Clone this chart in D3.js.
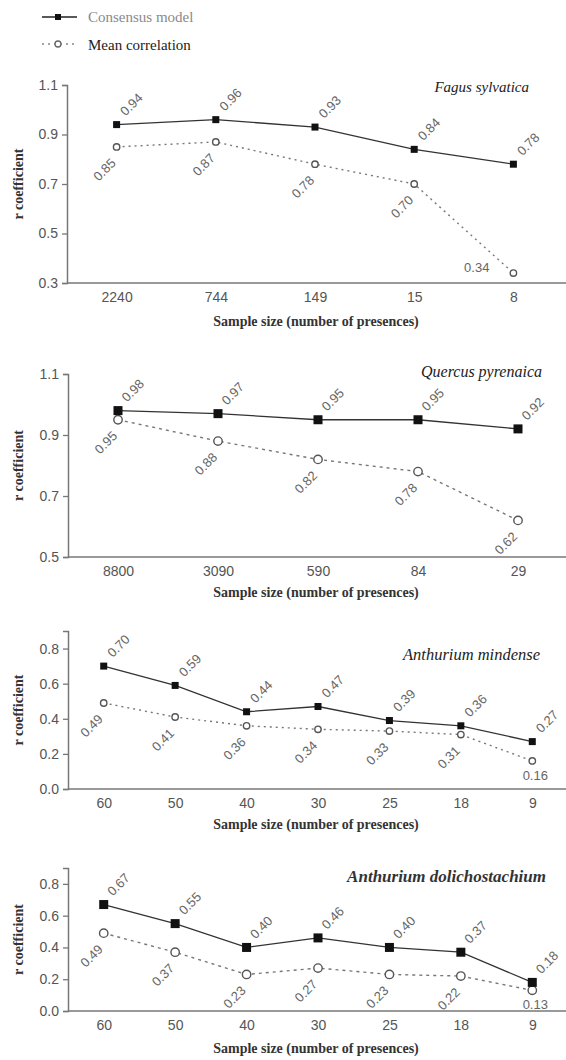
<!DOCTYPE html>
<html>
<head>
<meta charset="utf-8">
<script src="https://cdn.jsdelivr.net/npm/d3@7"></script>
<style>
  body { margin: 0; background: #fff; }
  svg { display: block; }
</style>
</head>
<body>
<svg id="chart" width="566" height="1060"></svg>
<script>
// data
var fagusSizes = ["2240", "744", "149", "15", "8"];
var fagusConsensus = [0.94, 0.96, 0.93, 0.84, 0.78];
var fagusMean = [0.85, 0.87, 0.78, 0.70, 0.34];

var quercusSizes = ["8800", "3090", "590", "84", "29"];
var quercusConsensus = [0.98, 0.97, 0.95, 0.95, 0.92];
var quercusMean = [0.95, 0.88, 0.82, 0.78, 0.62];

var mindenseSizes = ["60", "50", "40", "30", "25", "18", "9"];
var mindenseConsensus = [0.70, 0.59, 0.44, 0.47, 0.39, 0.36, 0.27];
var mindenseMean = [0.49, 0.41, 0.36, 0.34, 0.33, 0.31, 0.16];

var dolichoSizes = ["60", "50", "40", "30", "25", "18", "9"];
var dolichoConsensus = [0.67, 0.55, 0.40, 0.46, 0.40, 0.37, 0.18];
var dolichoMean = [0.49, 0.37, 0.23, 0.27, 0.23, 0.22, 0.13];

var ticksA = [0.3, 0.5, 0.7, 0.9, 1.1];
var ticksB = [0.5, 0.7, 0.9, 1.1];
var ticksC = [0.0, 0.2, 0.4, 0.6, 0.8];

var seriesNames = ["Consensus model", "Mean correlation"];
var xTitle = "Sample size (number of presences)";
var yTitle = "r  coefficient";

// layout of each panel (pixels), last mean label placement: "left", "below" or "rot"
var panels = [
  {name: "Fagus sylvatica", sizes: fagusSizes, cons: fagusConsensus, mean: fagusMean,
   ticks: ticksA, domain: [0.3, 1.1], yTop: 85, yBot: 283, x0: 67, x1: 563,
   sq: 7, r: 3.2, dash: "2,4", titleX: 529, titleY: 92, titleSize: 15, bold: false,
   xTitleDy: 43, last: "left"},
  {name: "Quercus pyrenaica", sizes: quercusSizes, cons: quercusConsensus, mean: quercusMean,
   ticks: ticksB, domain: [0.5, 1.1], yTop: 374, yBot: 557, x0: 68, x1: 568,
   sq: 9, r: 4.2, dash: "3,4", titleX: 542, titleY: 377, titleSize: 16, bold: false,
   xTitleDy: 40, last: "rot"},
  {name: "Anthurium mindense", sizes: mindenseSizes, cons: mindenseConsensus, mean: mindenseMean,
   ticks: ticksC, domain: [0, 0.9], yTop: 631, yBot: 789, x0: 68, x1: 568,
   sq: 7, r: 3.2, dash: "2,4", titleX: 540, titleY: 660, titleSize: 16.5, bold: false,
   xTitleDy: 40, last: "below"},
  {name: "Anthurium dolichostachium", sizes: dolichoSizes, cons: dolichoConsensus, mean: dolichoMean,
   ticks: ticksC, domain: [0, 0.9], yTop: 868, yBot: 1011, x0: 68, x1: 568,
   sq: 9, r: 4.2, dash: "3,4", titleX: 546, titleY: 882, titleSize: 17, bold: true,
   xTitleDy: 42, last: "below"}
];

var svg = d3.select("#chart");
var serif = "'Liberation Serif', 'Times New Roman', serif";
var sans = "'Liberation Sans', Arial, sans-serif";
var f2 = d3.format(".2f");

// legend
var leg = svg.append("g");
leg.append("line").attr("x1", 42).attr("x2", 77).attr("y1", 17).attr("y2", 17)
  .attr("stroke", "#222").attr("stroke-width", 1.5);
leg.append("rect").attr("x", 55).attr("y", 14).attr("width", 6).attr("height", 6).attr("fill", "#111");
leg.append("text").attr("x", 88).attr("y", 22).text(seriesNames[0])
  .attr("font-family", serif).attr("font-size", 15).attr("fill", "#8a8a8a");
leg.append("line").attr("x1", 42).attr("x2", 77).attr("y1", 44).attr("y2", 44)
  .attr("stroke", "#888").attr("stroke-width", 1.3).attr("stroke-dasharray", "2,4");
leg.append("circle").attr("cx", 58).attr("cy", 44).attr("r", 3).attr("fill", "#fff")
  .attr("stroke", "#666").attr("stroke-width", 1.3);
leg.append("text").attr("x", 88).attr("y", 50).text(seriesNames[1])
  .attr("font-family", serif).attr("font-size", 15).attr("fill", "#222");

panels.forEach(function(p) {
  var g = svg.append("g");
  var x = d3.scalePoint().domain(p.sizes).range([p.x0, p.x1]).padding(0.5);
  var y = d3.scaleLinear().domain(p.domain).range([p.yBot, p.yTop]);

  // y axis
  var ya = g.append("g")
    .attr("transform", "translate(" + p.x0 + ",0)")
    .call(d3.axisLeft(y).tickValues(p.ticks).tickFormat(d3.format(".1f")).tickSizeOuter(0).tickSize(5).tickPadding(4));
  ya.select(".domain").attr("stroke", "#777").attr("stroke-width", 1.5);
  ya.selectAll(".tick line").attr("stroke", "#777").attr("stroke-width", 1.3);
  ya.selectAll(".tick text").attr("font-family", sans).attr("font-size", 14).attr("fill", "#555");

  // x axis
  var xa = g.append("g")
    .attr("transform", "translate(0," + p.yBot + ")")
    .call(d3.axisBottom(x).tickSize(0).tickPadding(9));
  xa.select(".domain").remove();
  xa.selectAll(".tick text").attr("font-family", sans).attr("font-size", 14).attr("fill", "#555");
  g.append("line").attr("x1", p.x0).attr("x2", 566).attr("y1", p.yBot).attr("y2", p.yBot)
    .attr("stroke", "#777").attr("stroke-width", 1.5);

  g.append("text")
    .attr("x", 316).attr("y", p.yBot + p.xTitleDy)
    .attr("text-anchor", "middle")
    .attr("font-family", serif).attr("font-weight", "bold").attr("font-size", 14).attr("fill", "#333")
    .text(xTitle);

  g.append("text")
    .attr("transform", "translate(23," + ((p.yTop + p.yBot) / 2) + ") rotate(-90)")
    .attr("text-anchor", "middle")
    .attr("font-family", serif).attr("font-weight", "bold").attr("font-size", 14).attr("fill", "#333")
    .text(yTitle);

  g.append("text")
    .attr("x", p.titleX).attr("y", p.titleY)
    .attr("text-anchor", "end")
    .attr("font-family", serif).attr("font-style", "italic")
    .attr("font-weight", p.bold ? "bold" : "normal")
    .attr("font-size", p.titleSize).attr("fill", p.bold ? "#333" : "#222")
    .text(p.name);

  var line = d3.line()
    .x(function(d, i) { return x(p.sizes[i]); })
    .y(function(d) { return y(d); });

  g.append("path").datum(p.mean)
    .attr("fill", "none").attr("stroke", "#777").attr("stroke-width", 1.4)
    .attr("stroke-dasharray", p.dash).attr("d", line);
  g.append("path").datum(p.cons)
    .attr("fill", "none").attr("stroke", "#333").attr("stroke-width", 1.3).attr("d", line);

  g.selectAll(".mc").data(p.mean).enter().append("circle")
    .attr("cx", function(d, i) { return x(p.sizes[i]); })
    .attr("cy", function(d) { return y(d); })
    .attr("r", p.r).attr("fill", "#fff").attr("stroke", "#555").attr("stroke-width", 1.4);
  g.selectAll(".cs").data(p.cons).enter().append("rect")
    .attr("x", function(d, i) { return x(p.sizes[i]) - p.sq / 2; })
    .attr("y", function(d) { return y(d) - p.sq / 2; })
    .attr("width", p.sq).attr("height", p.sq).attr("fill", "#111");

  var n = p.sizes.length;
  // consensus labels, rotated, above right
  g.selectAll(".cl").data(p.cons).enter().append("text")
    .attr("transform", function(d, i) {
      return "translate(" + (x(p.sizes[i]) + 9) + "," + (y(d) - 8) + ") rotate(-45)";
    })
    .attr("font-family", sans).attr("font-size", 13).attr("fill", "#666")
    .text(function(d) { return f2(d); });
  // mean labels, rotated below left; last one may sit left or below
  g.selectAll(".ml").data(p.mean).enter().append("text")
    .attr("transform", function(d, i) {
      var cx = x(p.sizes[i]), cy = y(d);
      if (i === n - 1 && p.last === "left") return "translate(" + (cx - 24) + "," + (cy - 1) + ")";
      if (i === n - 1 && p.last === "below") return "translate(" + (cx + 3) + "," + (cy + 19) + ")";
      return "translate(" + cx + "," + (cy + 17) + ") rotate(-45)";
    })
    .attr("text-anchor", function(d, i) {
      if (i === n - 1 && p.last === "below") return "middle";
      return "end";
    })
    .attr("font-family", sans).attr("font-size", 13).attr("fill", "#666")
    .text(function(d) { return f2(d); });
});
</script>
</body>
</html>
